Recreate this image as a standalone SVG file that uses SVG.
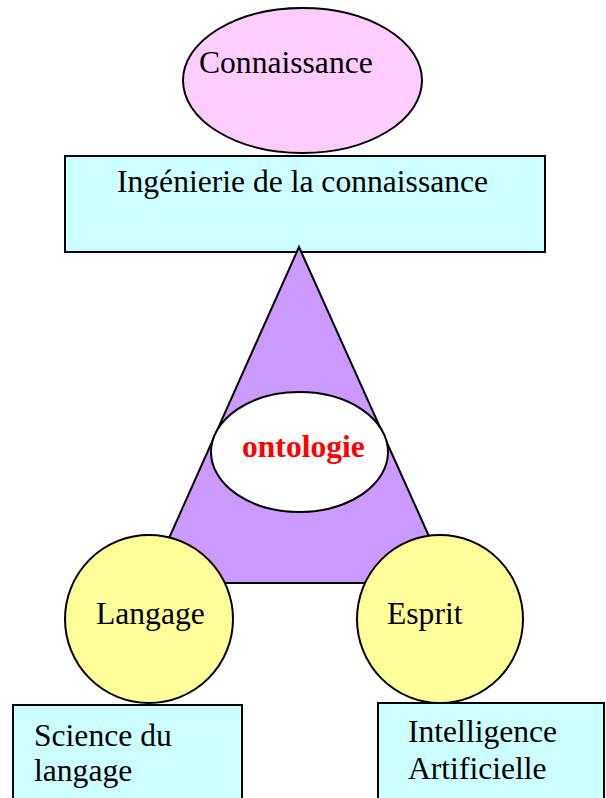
<svg xmlns="http://www.w3.org/2000/svg" width="606" height="798" viewBox="0 0 606 798">
<style>
.s{stroke:#000;stroke-width:2}
.t{font-family:"Liberation Serif","Times New Roman",serif;font-size:31.6px;fill:#000}
.pink{fill:#FFCCFF}
.cyan{fill:#CCFFFF}
.purple{fill:#CC99FF}
.yellow{fill:#FFFF99}
</style>
<rect width="606" height="798" fill="#fff"/>
<g id="connaissance">
<ellipse class="s pink" cx="302.5" cy="80.5" rx="119.5" ry="72.5"/>
<text class="t" x="199" y="73">Connaissance</text>
</g>
<g id="ingenierie">
<rect class="s cyan" x="65" y="156" width="480" height="96"/>
<text class="t" x="117" y="192">Ingénierie de la connaissance</text>
</g>
<g id="connectors"></g>
<g id="triangle">
<polygon class="s purple" points="299,247 149,583 450,583" stroke-linejoin="miter"/>
</g>
<g id="ontologie">
<ellipse class="s" fill="#fff" cx="299.5" cy="452" rx="88.5" ry="60"/>
<text class="t" x="242" y="457" style="font-weight:bold;fill:#FF0000">ontologie</text>
</g>
<g id="langage">
<ellipse class="s yellow" cx="149" cy="619" rx="84" ry="84"/>
<text class="t" x="96" y="624">Langage</text>
</g>
<g id="esprit">
<ellipse class="s yellow" cx="440" cy="619" rx="83" ry="84"/>
<text class="t" x="387" y="624">Esprit</text>
</g>
<g id="science">
<rect class="s cyan" x="13" y="705" width="229" height="100"/>
<text class="t" x="34" y="746">Science du</text>
<text class="t" x="34" y="781">langage</text>
</g>
<g id="ia">
<rect class="s cyan" x="378" y="703" width="226" height="102"/>
<text class="t" x="408" y="742">Intelligence</text>
<text class="t" x="408" y="779">Artificielle</text>
</g>
</svg>
